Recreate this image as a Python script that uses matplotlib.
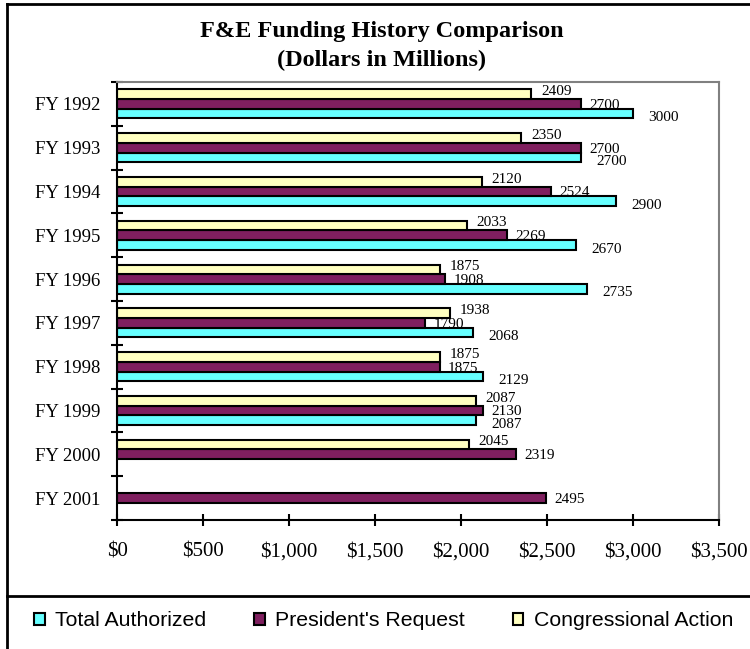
import numpy as np
import matplotlib
matplotlib.use("Agg")
import matplotlib.pyplot as plt
from matplotlib.lines import Line2D

years = ["FY 1992", "FY 1993", "FY 1994", "FY 1995", "FY 1996",
         "FY 1997", "FY 1998", "FY 1999", "FY 2000", "FY 2001"]
total_authorized = [3000, 2700, 2900, 2670, 2735, 2068, 2129, 2087, np.nan, np.nan]
presidents_request = [2700, 2700, 2524, 2269, 1908, 1790, 1875, 2130, 2319, 2495]
congressional_action = [2409, 2350, 2120, 2033, 1875, 1938, 1875, 2087, 2045, np.nan]
xticks = [0, 500, 1000, 1500, 2000, 2500, 3000, 3500]

serif = "Liberation Serif"
sans = "Liberation Sans"

fig = plt.figure(figsize=(7.5, 6.49), dpi=100)
W, H = 750, 649
ax = fig.add_axes([117 / W, 1 - 520 / H, (719 - 117) / W, (520 - 82) / H])

y = np.arange(len(years))
h = 0.22
series = [
    (total_authorized, "#66FFFF", "Total Authorized", h, (11, -3)),
    (presidents_request, "#7F1F5F", "President's Request", 0, (6, -1)),
    (congressional_action, "#FFFFC0", "Congressional Action", -h, (7, 2)),
]
handles = []
for vals, col, name, off, (dx, dy) in series:
    vals = np.array(vals, dtype=float)
    b = ax.barh(y + off, vals, height=h, color=col, edgecolor="black",
                linewidth=1.5, label=name)
    handles.append(b)
    for yi, v in zip(y + off, vals):
        if np.isnan(v):
            continue
        ax.annotate(f"{int(v)}", (v, yi), xytext=(dx, dy), textcoords="offset points",
                    ha="left", va="center", fontsize=11, family=serif)

ax.set_xlim(0, 3500)
ax.set_ylim(len(years) - 0.5, -0.5)
ax.set_xticks(xticks)
ax.set_xticklabels([f"${v:,}" for v in xticks], family=serif, fontsize=15)
ax.tick_params(axis="x", direction="inout", length=9, width=1.5, pad=12)
ax.set_yticks(y)
ax.set_yticklabels(years, family=serif, fontsize=13.5)
ax.tick_params(axis="y", which="major", length=0, pad=12)
ax.set_yticks(np.arange(len(years) + 1) - 0.5, minor=True)
ax.tick_params(axis="y", which="minor", direction="inout", length=8, width=1.5)

for s in ["left", "bottom"]:
    ax.spines[s].set_linewidth(1.5)
    ax.spines[s].set_color("black")
for s in ["top", "right"]:
    ax.spines[s].set_linewidth(1.5)
    ax.spines[s].set_color("#808080")

fig.text(382 / W, 1 - 31 / H, "F&E Funding History Comparison", ha="center", va="center",
         family=serif, fontsize=17.5, fontweight="bold")
fig.text(382 / W, 1 - 60 / H, "(Dollars in Millions)", ha="center", va="center",
         family=serif, fontsize=17.5, fontweight="bold")

# frame lines of the chart area
fig.add_artist(Line2D([7 / W, 1], [1 - 4 / H, 1 - 4 / H], transform=fig.transFigure,
                      color="black", linewidth=2))
fig.add_artist(Line2D([7 / W, 7 / W], [0, 1 - 4 / H], transform=fig.transFigure,
                      color="black", linewidth=2))
fig.add_artist(Line2D([7 / W, 1], [1 - 596 / H, 1 - 596 / H], transform=fig.transFigure,
                      color="black", linewidth=2))

fig.legend(handles=handles, loc="center left", bbox_to_anchor=(34 / W, 1 - 621 / H),
           ncol=3, frameon=False, handlelength=0.5, handleheight=0.5,
           handletextpad=0.5, columnspacing=2.24, borderaxespad=0, borderpad=0,
           prop={"family": sans, "size": 15.3})

fig.savefig("out.png", dpi=100)
